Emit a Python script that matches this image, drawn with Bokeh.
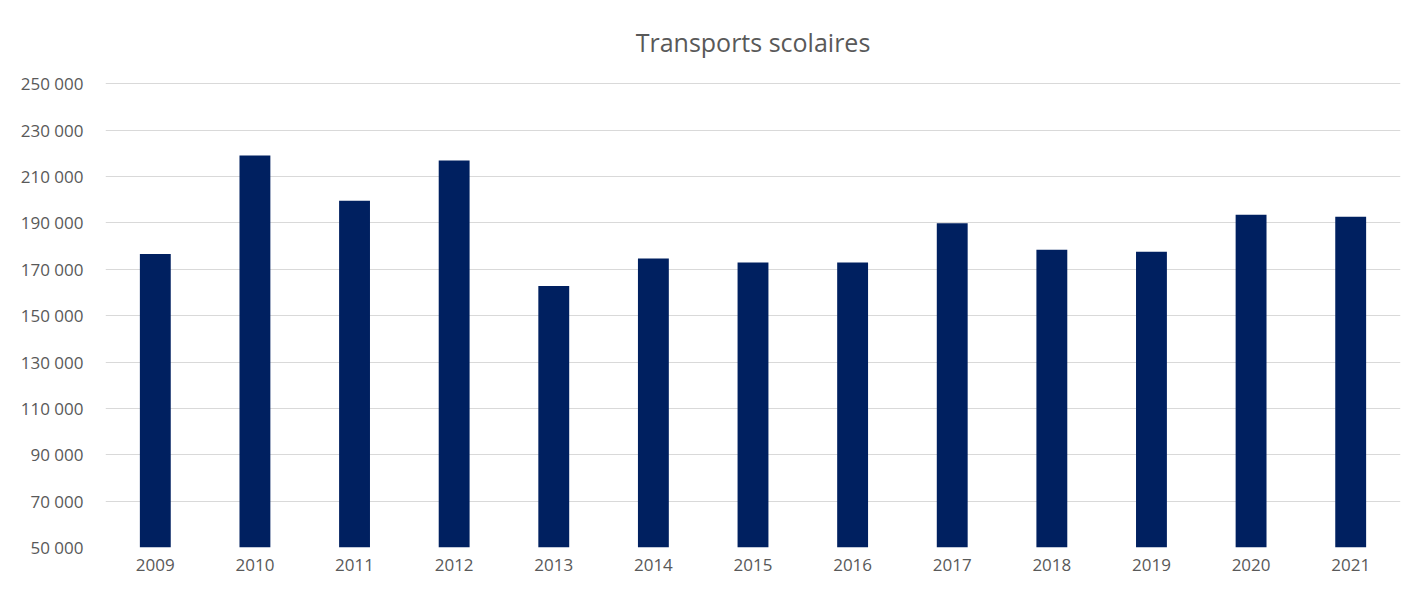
from bokeh.plotting import figure
from bokeh.models import ColumnDataSource, Range1d, FixedTicker, FactorRange
from bokeh.embed import file_html
from bokeh.resources import INLINE

years = ["2009", "2010", "2011", "2012", "2013", "2014", "2015", "2016",
         "2017", "2018", "2019", "2020", "2021"]
values = [176600, 219100, 199600, 216900, 162800, 174700, 173000, 173000,
          189900, 178400, 177600, 193600, 192700]
y_ticks = [50000, 70000, 90000, 110000, 130000, 150000, 170000, 190000,
           210000, 230000, 250000]
y_tick_labels = ["50 000", "70 000", "90 000", "110 000", "130 000", "150 000",
                 "170 000", "190 000", "210 000", "230 000", "250 000"]
title_text = "Transports scolaires"

FONT = "Open Sans"
TXT = "#595959"
GRID = "#d9d9d9"

source = ColumnDataSource(dict(year=years, value=values))

p = figure(width=1406, height=581, output_backend="svg", toolbar_location=None,
           x_range=FactorRange(*years, range_padding=0),
           y_range=Range1d(50000, 250600),
           min_border_left=105, min_border_right=6, min_border_top=82,
           min_border_bottom=34)

p.vbar(x="year", top="value", bottom=50000, width=0.31, source=source,
       fill_color="#002060", line_color=None)

p.title.text = title_text
p.title.align = "center"
p.title.vertical_align = "top"
p.title.text_font = FONT
p.title.text_font_size = "25px"
p.title.text_font_style = "normal"
p.title.text_color = TXT
p.title.text_line_height = 0.9
p.title.offset = 0
p.title.standoff = 44

p.yaxis.ticker = FixedTicker(ticks=y_ticks)
p.yaxis.major_label_overrides = {t: l for t, l in zip(y_ticks, y_tick_labels)}
for ax in (p.xaxis[0], p.yaxis[0]):
    ax.axis_line_color = None
    ax.major_tick_line_color = None
    ax.minor_tick_line_color = None
    ax.major_tick_out = 0
    ax.major_tick_in = 0
    ax.minor_tick_out = 0
    ax.major_label_text_font = FONT
    ax.major_label_text_font_size = "17px"
    ax.major_label_text_color = TXT
p.yaxis.major_label_standoff = 22
p.xaxis.major_label_standoff = 11

p.xgrid.grid_line_color = None
p.ygrid.grid_line_color = GRID
p.ygrid.grid_line_width = 1.2
p.outline_line_color = None
p.background_fill_color = "white"
p.border_fill_color = "white"

open("out.html", "w").write(file_html(p, INLINE))
